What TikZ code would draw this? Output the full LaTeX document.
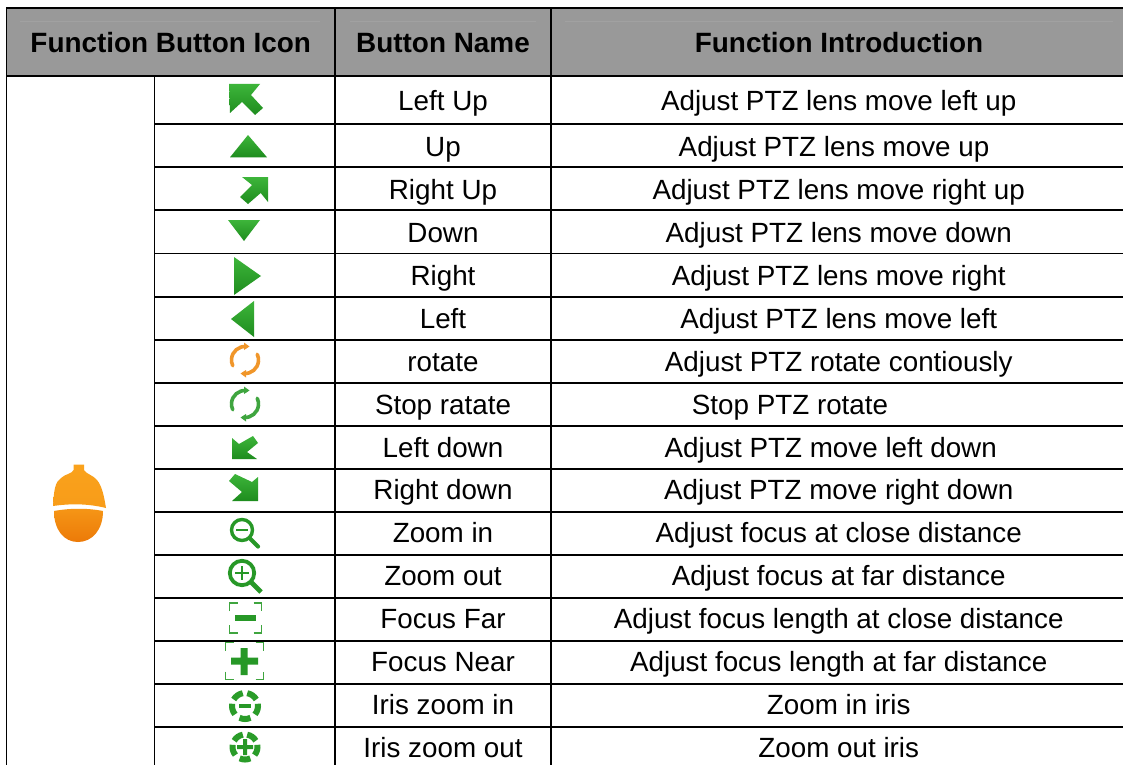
\documentclass[tikz,border=0pt]{standalone}
\usepackage{fontspec}
\setmainfont{Liberation Sans}
\definecolor{hdr}{HTML}{999999}
\definecolor{gt}{HTML}{3DB53A}
\definecolor{gb}{HTML}{1E8C1E}
\definecolor{ot}{HTML}{FAA21C}
\definecolor{ob}{HTML}{EC7A08}
\definecolor{ring}{HTML}{F0962A}
\definecolor{ringg}{HTML}{3FA53F}
\tikzset{
  x=1pt,y=-1pt,
  grid/.style={line width=1.8pt,black},
  cell/.style={anchor=base,font=\fontsize{27.8}{32}\selectfont,text=black,inner sep=0pt},
  head/.style={anchor=base,font=\fontsize{27.9}{32}\selectfont\bfseries,text=black,inner sep=0pt},
  arrowicon/.style={top color=gt,bottom color=gb,draw=none},
  ringline/.style={line width=3.6pt,line cap=round},
  zoomline/.style={line width=3.4pt,gb!70!gt},
  irisseg/.style={line width=6pt,gb!60!gt},
  corner/.style={line width=1.8pt,ringg},
}
\newcommand{\irisicon}[3]{%
  \foreach \a in {125,55,-15,-90,-165}{
    \draw[irisseg] ({#1+#3*cos(\a-25)},{#2-#3*sin(\a-25)}) arc[start angle=\a-25,end angle=\a+25,radius=#3 pt];
  }}
\newcommand{\ringicon}[3]{%
  \draw[ringline,#3] ({#1+13.5*cos(85)},{#2-13.5*sin(85)}) arc[start angle=85,end angle=205,radius=13.5pt];
  \draw[ringline,#3] ({#1+13.5*cos(-95)},{#2-13.5*sin(-95)}) arc[start angle=-95,end angle=25,radius=13.5pt];
  \fill[#3] (#1-1,#2-17.5) -- (#1+4.5,#2-13.5) -- (#1-1,#2-10) -- cycle;
  \fill[#3] (#1+1,#2+17.5) -- (#1-4.5,#2+13.5) -- (#1+1,#2+10) -- cycle;
}
\newcommand{\corners}[4]{%
  \draw[corner] (#1,#2+8) -- (#1,#2) -- (#1+8,#2);
  \draw[corner] (#3-8,#2) -- (#3,#2) -- (#3,#2+8);
  \draw[corner] (#1,#4-8) -- (#1,#4) -- (#1+8,#4);
  \draw[corner] (#3-8,#4) -- (#3,#4) -- (#3,#4-8);
}
\begin{document}
\begin{tikzpicture}
\useasboundingbox (0,0) rectangle (1123,765);
\fill[white] (0,0) rectangle (1123,765);
% header band
\fill[hdr] (6.5,8) rectangle (1123,76);
\draw[hdr!92!white,line width=.6pt] (20,21.5) -- (320,21.5) (350,21.5) -- (536,21.5) (565,21.5) -- (1113,21.5);
% grid
\draw[grid] (1123,8) -- (6.5,8) -- (6.5,765);
\draw[grid] (6.5,76) -- (1123,76);
\draw[grid] (154.5,76) -- (154.5,765);
\draw[grid] (335,8) -- (335,765);
\draw[grid] (551,8) -- (551,765);
\foreach \y in {124,167.3,210.3,253.5,297,340,383,425.8,469,511.8,555,598,641,683.8,726.8}
  \draw[grid] (154.5,\y) -- (1123,\y);
% header text
\node[head] (h1) at (170.7,52.7) {Function Button Icon};
\node[head] (h2) at (443,52.7) {Button Name};
\node[head] (h3) at (839,52.7) {Function Introduction};
% button names
\node[cell] (n0) at (443,110.7) {Left Up};
\node[cell] (n1) at (443,156.7) {Up};
\node[cell] (n2) at (443,199.6) {Right Up};
\node[cell] (n3) at (443,242.5) {Down};
\node[cell] (n4) at (443,285.4) {Right};
\node[cell] (n5) at (443,328.3) {Left};
\node[cell] (n6) at (443,371.2) {rotate};
\node[cell] (n7) at (443,414.1) {Stop ratate};
\node[cell] (n8) at (443,457) {Left down};
\node[cell] (n9) at (443,499.9) {Right down};
\node[cell] (n10) at (443,542.8) {Zoom in};
\node[cell] (n11) at (443,585.7) {Zoom out};
\node[cell] (n12) at (443,628.6) {Focus Far};
\node[cell] (n13) at (443,671.5) {Focus Near};
\node[cell] (n14) at (443,714.4) {Iris zoom in};
\node[cell] (n15) at (443,757.3) {Iris zoom out};
% function introductions
\node[cell] (f0) at (838.7,110.7) {Adjust PTZ lens move left up};
\node[cell] (f1) at (834,156.7) {Adjust PTZ lens move up};
\node[cell] (f2) at (838.7,199.6) {Adjust PTZ lens move right up};
\node[cell] (f3) at (838.7,242.5) {Adjust PTZ lens move down};
\node[cell] (f4) at (838.7,285.4) {Adjust PTZ lens move right};
\node[cell] (f5) at (838.7,328.3) {Adjust PTZ lens move left};
\node[cell] (f6) at (838.7,371.2) {Adjust PTZ rotate contiously};
\node[cell] (f7) at (790,414.1) {Stop PTZ rotate};
\node[cell] (f8) at (830.7,457) {Adjust PTZ move left down};
\node[cell] (f9) at (838.7,499.9) {Adjust PTZ move right down};
\node[cell] (f10) at (838.7,542.8) {Adjust focus at close distance};
\node[cell] (f11) at (838.7,585.7) {Adjust focus at far distance};
\node[cell] (f12) at (838.7,628.6) {Adjust focus length at close distance};
\node[cell] (f13) at (838.7,671.5) {Adjust focus length at far distance};
\node[cell] (f14) at (838.7,714.4) {Zoom in iris};
\node[cell] (f15) at (838.7,757.3) {Zoom out iris};
% camera icon
\path[top color=ot,bottom color=ot!85!ob] (53,506) .. controls (54,490) and (55,482) .. (61,478) .. controls (66,473.5) and (72,474) .. (73.5,470) -- (73.5,464.5) -- (84,464.5) -- (84,470) .. controls (86,474) and (93,475) .. (97,480) .. controls (102,486) and (104,496) .. (106,508) .. controls (88,503.5) and (70,503.5) .. (53,506) -- cycle;
\path[top color=ot!70!ob,bottom color=ob] (54,511) .. controls (70,508) and (88,508) .. (103,511) .. controls (103,530) and (92,542) .. (78,542) .. controls (64,542) and (54,530) .. (54,511) -- cycle;
% arrows
\path[arrowicon] (229,84) -- (260,84) -- (251,95) -- (263,108) -- (255,115) -- (242,102) -- (230,113) -- cycle;
\path[arrowicon] (230,157.3) -- (248,135) -- (267,157.3) -- cycle;
\path[arrowicon] (242,177) -- (268,177) -- (268,202) -- (260.7,193) -- (248,204) -- (240,197) -- (252,185) -- cycle;
\path[arrowicon] (228,220) -- (260,220) -- (244,241) -- cycle;
\path[arrowicon] (234,257) -- (261,276) -- (234,295) -- cycle;
\path[arrowicon] (254,301) -- (231,319) -- (254,337) -- cycle;
\ringicon{245}{360}{ring}
\ringicon{245}{404}{ringg}
\path[arrowicon] (232,459) -- (232,438) -- (239,444) -- (253,436) -- (258,443) -- (247,452) -- (257,459) -- cycle;
\path[arrowicon] (232,501) -- (258,501) -- (258,477) -- (252,482) -- (235,474) -- (229,481) -- (242,492) -- cycle;
% zoom icons
\draw[zoomline] (242,530) circle[radius=10.5pt];
\draw[zoomline,line width=2.8pt] (236,530) -- (248,530);
\draw[gb!70!gt,line width=4.2pt,line cap=round] (250,538.5) -- (258,546.5);
\draw[zoomline,line width=3.8pt] (242,573) circle[radius=12.2pt];
\draw[zoomline,line width=2.8pt] (235,573) -- (249,573) (242,566) -- (242,580);
\draw[gb!70!gt,line width=4.8pt] (251,582) -- (261,592);
% focus icons
\corners{229.5}{603}{261.5}{633}
\fill[gb!70!gt] (235,615) rectangle (256,621);
\corners{225.5}{642.5}{263.5}{679.5}
\fill[gb!70!gt] (231,657.5) rectangle (258,664.5) (240.5,648) rectangle (247.5,675);
% iris icons
\irisicon{245}{706}{13}
\fill[gb!70!gt] (239,704) rectangle (251,708);
\irisicon{245}{747}{12.5}
\fill[gb!70!gt] (237,745) rectangle (253,749) (243,739) rectangle (247,755);
\end{tikzpicture}
\end{document}
